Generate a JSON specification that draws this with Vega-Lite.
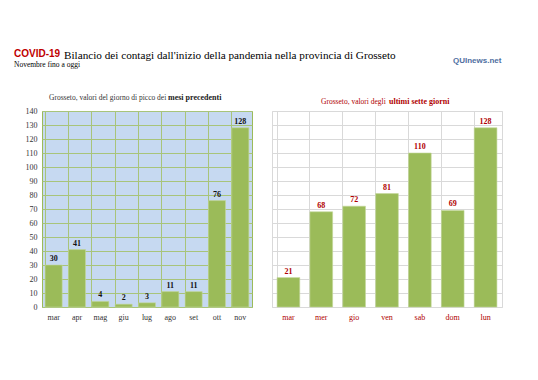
{
  "$schema": "https://vega.github.io/schema/vega-lite/v6.json",
  "background": "white",
  "padding": {"left": 14, "top": 48, "right": 10, "bottom": 10},
  "config": {
    "view": {"stroke": null},
    "font": "Liberation Serif",
    "title": {"font": "Liberation Serif", "fontWeight": "normal", "color": "black"}
  },
  "title": {
    "text": "QUInews.net",
    "anchor": "start",
    "frame": "group",
    "dx": 411,
    "font": "Liberation Sans",
    "fontWeight": "bold",
    "fontSize": 8,
    "color": "#4f6f9f",
    "offset": -16
  },
  "vconcat": [
    {
      "title": {
        "text": "Bilancio dei contagi dall'inizio della pandemia nella provincia di Grosseto",
        "anchor": "start",
        "frame": "group",
        "dx": 22,
        "offset": -13,
        "fontSize": 11.2,
        "color": "black"
      },
      "vconcat": [
        {
          "title": {
            "text": "COVID-19",
            "subtitle": "Novembre fino a oggi",
            "anchor": "start",
            "frame": "group",
            "dx": -28,
            "font": "Liberation Sans",
            "fontWeight": "bold",
            "fontSize": 10,
            "color": "#c00000",
            "subtitleFont": "Liberation Serif",
            "subtitleFontSize": 7.5,
            "subtitleColor": "black",
            "subtitlePadding": 2,
            "offset": 25
          },
          "hconcat": [
            {
              "title": {"text": "mesi precedenti", "anchor": "start", "frame": "group", "dx": 126, "offset": -9, "fontSize": 8, "fontWeight": "bold", "color": "#222222"},
              "vconcat": [
                {
                  "title": {"text": "Grosseto, valori del giorno di picco dei", "anchor": "start", "frame": "group", "dx": 7, "fontSize": 7.5, "color": "#333333", "offset": 6},
                  "width": 210,
                  "height": 196,
                  "data": {"values": [
                    {"mese": "mar", "casi": 30},
                    {"mese": "apr", "casi": 41},
                    {"mese": "mag", "casi": 4},
                    {"mese": "giu", "casi": 2},
                    {"mese": "lug", "casi": 3},
                    {"mese": "ago", "casi": 11},
                    {"mese": "set", "casi": 11},
                    {"mese": "ott", "casi": 76},
                    {"mese": "nov", "casi": 128}
                  ]},
                  "encoding": {
                    "x": {"field": "mese", "type": "nominal", "sort": null,
                      "scale": {"paddingInner": 0.27, "paddingOuter": 0.135},
                      "axis": {"title": null, "labelAngle": 0, "domain": false, "ticks": false, "grid": true, "bandPosition": 0, "gridColor": "#a8c47a", "gridWidth": 1, "labelFontSize": 8, "labelColor": "#333333", "labelFont": "Liberation Serif", "labelPadding": 6}},
                    "y": {"field": "casi", "type": "quantitative",
                      "scale": {"domain": [0, 140], "nice": false},
                      "axis": {"title": null, "values": [0,10,20,30,40,50,60,70,80,90,100,110,120,130,140], "domain": false, "ticks": false, "gridColor": "#a8c47a", "gridWidth": 1, "labelFontSize": 8, "labelColor": "#333333", "labelFont": "Liberation Serif", "labelPadding": 5}}
                  },
                  "layer": [
                    {"mark": {"type": "bar", "color": "#9bbb59", "stroke": "#c3d69b", "strokeWidth": 0.6}},
                    {"mark": {"type": "text", "dy": -6, "fontWeight": "bold", "fontSize": 8, "font": "Liberation Serif", "color": "#111111"},
                     "encoding": {"text": {"field": "casi", "type": "quantitative"}}}
                  ],
                  "view": {"fill": "#c6d9f1", "stroke": "#9bbb59", "strokeWidth": 1}
                }
              ]
            },
            {
              "title": {"text": "ultimi sette giorni", "anchor": "start", "frame": "group", "dx": 117, "offset": -9, "fontSize": 8, "fontWeight": "bold", "color": "#b00000"},
              "vconcat": [
                {
                  "title": {"text": "Grosseto, valori degli", "anchor": "start", "frame": "group", "dx": 49, "fontSize": 7.5, "color": "#b00000", "offset": 6},
                  "width": 230,
                  "height": 196,
                  "data": {"values": [
                    {"giorno": "mar", "casi": 21},
                    {"giorno": "mer", "casi": 68},
                    {"giorno": "gio", "casi": 72},
                    {"giorno": "ven", "casi": 81},
                    {"giorno": "sab", "casi": 110},
                    {"giorno": "dom", "casi": 69},
                    {"giorno": "lun", "casi": 128}
                  ]},
                  "encoding": {
                    "x": {"field": "giorno", "type": "nominal", "sort": null,
                      "scale": {"paddingInner": 0.31, "paddingOuter": 0.155},
                      "axis": {"title": null, "labelAngle": 0, "domain": false, "ticks": false, "grid": true, "bandPosition": 0, "gridColor": "#d9d9d9", "gridWidth": 1, "labelFontSize": 8, "labelColor": "#b00000", "labelFont": "Liberation Serif", "labelPadding": 6}},
                    "y": {"field": "casi", "type": "quantitative",
                      "scale": {"domain": [0, 140], "nice": false},
                      "axis": {"title": null, "values": [0,10,20,30,40,50,60,70,80,90,100,110,120,130,140], "domain": false, "ticks": false, "labels": false, "gridColor": "#d9d9d9", "gridWidth": 1}}
                  },
                  "layer": [
                    {"mark": {"type": "bar", "color": "#9bbb59", "stroke": "#c3d69b", "strokeWidth": 0.6}},
                    {"mark": {"type": "text", "dy": -6, "fontWeight": "bold", "fontSize": 8, "font": "Liberation Serif", "color": "#b00000"},
                     "encoding": {"text": {"field": "casi", "type": "quantitative"}}}
                  ],
                  "view": {"fill": "white", "stroke": "#d9d9d9", "strokeWidth": 1}
                }
              ]
            }
          ],
          "spacing": 18
        }
      ]
    }
  ]
}
